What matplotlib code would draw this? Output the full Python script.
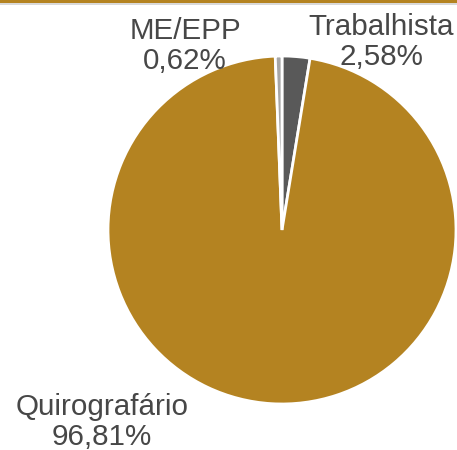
import matplotlib
matplotlib.use("Agg")
from matplotlib import pyplot as plt

# Slice data (clockwise from 12 o'clock)
categories = ["Trabalhista", "Quirografário", "ME/EPP"]
shares = [2.58, 96.81, 0.62]
colors = ["#595959", "#B48321", "#A6A6A6"]

plt.rcParams['font.family'] = ['Liberation Sans', 'DejaVu Sans']

W, H = 457, 450
fig = plt.figure(figsize=(W / 100, H / 100), dpi=100)

# thin gold + grey rule at the top
fig.add_artist(plt.Rectangle((0, 1 - 3 / H), 1, 3 / H, transform=fig.transFigure,
                             color="#B48321", lw=0))
fig.add_artist(plt.Rectangle((0, 1 - 5 / H), 1, 2 / H, transform=fig.transFigure,
                             color="#D9D9D9", lw=0))

# pie axes: centre (282, 230) px, radius 174 px
cx, cy, r = 282, 230, 174
ax = fig.add_axes([(cx - r) / W, (H - cy - r) / H, 2 * r / W, 2 * r / H])
ax.pie(shares, colors=colors, startangle=90, counterclock=False, radius=1,
       wedgeprops=dict(edgecolor="white", linewidth=2))
ax.set_xlim(-1, 1)
ax.set_ylim(-1, 1)
ax.set_aspect("auto")
ax.axis("off")

# label positions in pixels (x, y from top)
label_pos = {"Trabalhista": (381, 42), "ME/EPP": (185, 46), "Quirografário": (102, 422)}
for name, val in zip(categories, shares):
    x, y = label_pos[name]
    txt = f"{name}\n{val:.2f}%".replace(".", ",")
    fig.text(x / W, 1 - y / H, txt, ha="center", va="center", fontsize=21.3,
             color="#474747", linespacing=1.1)

fig.savefig("out.png", dpi=100)
